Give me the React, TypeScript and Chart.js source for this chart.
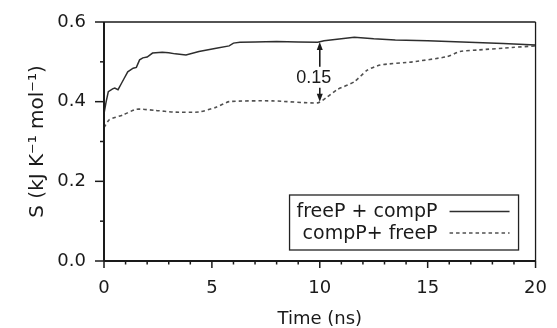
import React, { useEffect, useRef } from 'react';
import { Chart, registerables } from 'chart.js';

Chart.register(...registerables);

// ---- data ----
const solidTime = [0, 0.1, 0.2, 0.4, 0.5, 0.65, 0.8, 0.9, 1.1, 1.35, 1.5, 1.65, 1.8, 2.0, 2.25, 2.7, 3.0, 3.3, 3.8, 4.4, 5.2, 5.8, 6.0, 6.3, 7.0, 8.0, 9.0, 9.9, 10.2, 11.0, 11.6, 12.5, 13.5, 15.0, 16.6, 18.5, 20];
const solidS = [0.37, 0.40, 0.425, 0.432, 0.434, 0.43, 0.445, 0.455, 0.475, 0.484, 0.486, 0.505, 0.51, 0.512, 0.522, 0.524, 0.523, 0.52, 0.517, 0.526, 0.534, 0.54, 0.547, 0.549, 0.55, 0.551, 0.55, 0.549, 0.553, 0.558, 0.562, 0.558, 0.555, 0.553, 0.55, 0.546, 0.542];

const dashedTime = [0, 0.25, 0.9, 1.5, 2.4, 3.2, 4.4, 5.2, 5.8, 7.8, 9.9, 10.3, 10.8, 11.6, 12.2, 12.8, 14.3, 15.9, 16.5, 17.4, 18.9, 20];
const dashedS = [0.335, 0.355, 0.367, 0.381, 0.378, 0.374, 0.374, 0.386, 0.4, 0.402, 0.397, 0.41, 0.43, 0.45, 0.479, 0.492, 0.5, 0.513, 0.526, 0.53, 0.536, 0.54];

const seriesLabels = ['freeP + compP', 'compP+ freeP'];
const xTitle = 'Time (ns)';
const yTitle = 'S (kJ K\u207B\u00B9 mol\u207B\u00B9)';

const arrowX = 10;
const arrowLow = 0.4;
const arrowHigh = 0.55;
const arrowLabelY = 0.46;
const arrowText = '0.15';

const FONT = '"DejaVu Sans", sans-serif';
const INK = '#1a1a1a';

function line(ctx: CanvasRenderingContext2D, x1: number, y1: number, x2: number, y2: number) {
  ctx.beginPath();
  ctx.moveTo(x1, y1);
  ctx.lineTo(x2, y2);
  ctx.stroke();
}

const decorPlugin = {
  id: 'decor',
  afterDraw(chart: any) {
    const { ctx, chartArea: a, scales } = chart;
    const x = scales.x;
    const y = scales.y;
    ctx.save();
    ctx.strokeStyle = INK;
    ctx.lineCap = 'butt';
    // frame
    ctx.lineWidth = 1.3;
    line(ctx, a.left, a.top, a.right, a.top);
    line(ctx, a.right, a.top, a.right, a.bottom);
    ctx.lineWidth = 2;
    line(ctx, a.left, a.top, a.left, a.bottom);
    line(ctx, a.left, a.bottom, a.right, a.bottom);
    // ticks
    ctx.lineWidth = 1.5;
    x.ticks.forEach((t: any) => {
      const px = x.getPixelForValue(t.value);
      const major = Math.round(t.value) % 5 === 0;
      line(ctx, px, a.bottom, px, a.bottom + (major ? 7 : 3.5));
    });
    y.ticks.forEach((t: any) => {
      const py = y.getPixelForValue(t.value);
      const major = Math.round(t.value * 10) % 2 === 0;
      line(ctx, a.left - (major ? 9 : 4), py, a.left, py);
    });

    // arrow annotation
    const ax = x.getPixelForValue(arrowX);
    const yl = y.getPixelForValue(arrowLow);
    const yh = y.getPixelForValue(arrowHigh);
    const ty = y.getPixelForValue(arrowLabelY);
    ctx.lineWidth = 1.6;
    line(ctx, ax, yh + 5, ax, yl - 5);
    ctx.fillStyle = INK;
    ctx.beginPath();
    ctx.moveTo(ax, yh);
    ctx.lineTo(ax - 3, yh + 8);
    ctx.lineTo(ax + 3, yh + 8);
    ctx.closePath();
    ctx.fill();
    ctx.beginPath();
    ctx.moveTo(ax, yl);
    ctx.lineTo(ax - 3, yl - 8);
    ctx.lineTo(ax + 3, yl - 8);
    ctx.closePath();
    ctx.fill();
    ctx.font = '18px "Liberation Sans", Arial, sans-serif';
    const tw = ctx.measureText(arrowText).width;
    const tx = ax - 6;
    ctx.fillStyle = '#fff';
    ctx.fillRect(tx - tw / 2 - 2, ty - 11, tw + 4, 21);
    ctx.fillStyle = INK;
    ctx.textAlign = 'center';
    ctx.textBaseline = 'middle';
    ctx.fillText(arrowText, tx, ty);

    // legend box
    const bx1 = a.right - 246;
    const bx2 = a.right - 17;
    const by1 = a.bottom - 66;
    const by2 = a.bottom - 11;
    ctx.lineWidth = 1.3;
    ctx.strokeStyle = '#222';
    ctx.strokeRect(bx1, by1, bx2 - bx1, by2 - by1);
    ctx.font = '19px ' + FONT;
    ctx.textAlign = 'right';
    ctx.textBaseline = 'middle';
    const rows = [by1 + 16.5, by1 + 38];
    chart.data.datasets.forEach((ds: any, i: number) => {
      ctx.fillStyle = INK;
      ctx.fillText(ds.label, bx1 + 148, rows[i] + 1);
      ctx.strokeStyle = ds.borderColor;
      ctx.lineWidth = ds.borderWidth;
      ctx.setLineDash(ds.borderDash || []);
      line(ctx, bx1 + 160, rows[i], bx1 + 220, rows[i]);
      ctx.setLineDash([]);
    });
    ctx.restore();
  },
};

export default function App() {
  const ref = useRef<HTMLCanvasElement | null>(null);
  useEffect(() => {
    if (!ref.current) return;
    const chart = new Chart(ref.current, {
      type: 'line',
      data: {
        datasets: [
          {
            label: seriesLabels[0],
            data: solidTime.map((t, i) => ({ x: t, y: solidS[i] })),
            borderColor: '#2e2e2e',
            borderWidth: 1.5,
            pointRadius: 0,
            tension: 0,
            fill: false,
          },
          {
            label: seriesLabels[1],
            data: dashedTime.map((t, i) => ({ x: t, y: dashedS[i] })),
            borderColor: '#505050',
            borderWidth: 1.6,
            borderDash: [3.5, 3],
            pointRadius: 0,
            tension: 0.2,
            fill: false,
          },
        ],
      },
      options: {
        animation: false,
        responsive: false,
        maintainAspectRatio: false,
        layout: { padding: { left: 0, right: 17, top: 22, bottom: 0 } },
        plugins: { legend: { display: false }, tooltip: { enabled: false } },
        scales: {
          x: {
            type: 'linear',
            min: 0,
            max: 20,
            afterFit: (s: any) => { s.height = 67; },
            grid: { display: true, drawOnChartArea: false, drawTicks: true, tickLength: 7, tickColor: 'rgba(0,0,0,0)' },
            border: { display: false },
            ticks: {
              stepSize: 1,
              autoSkip: false,
              maxRotation: 0,
              padding: 10,
              color: INK,
              font: { family: FONT, size: 18 },
              callback: (v: any) => (Math.round(v) % 5 === 0 ? String(Math.round(v)) : ''),
            },
            title: { display: true, text: xTitle, color: INK, font: { family: FONT, size: 18 }, padding: { top: 0, bottom: -2 } },
          },
          y: {
            type: 'linear',
            min: 0,
            max: 0.6,
            afterFit: (s: any) => { s.width = 104; },
            grid: { display: true, drawOnChartArea: false, drawTicks: true, tickLength: 9, tickColor: 'rgba(0,0,0,0)' },
            border: { display: false },
            ticks: {
              stepSize: 0.1,
              autoSkip: false,
              padding: 9,
              color: INK,
              font: { family: FONT, size: 18 },
              callback: (v: any) => (Math.round(v * 10) % 2 === 0 ? Number(v).toFixed(1) : ''),
            },
            title: { display: true, text: yTitle, color: INK, font: { family: FONT, size: 20 }, padding: { top: 26, bottom: 0 } },
          },
        },
      },
      plugins: [decorPlugin],
    });
    return () => chart.destroy();
  }, []);
  return (
    <div style={{ position: 'absolute', left: 0, top: 0, width: 557, height: 328, background: '#fff' }}>
      <canvas ref={ref} width={557} height={328} />
    </div>
  );
}
